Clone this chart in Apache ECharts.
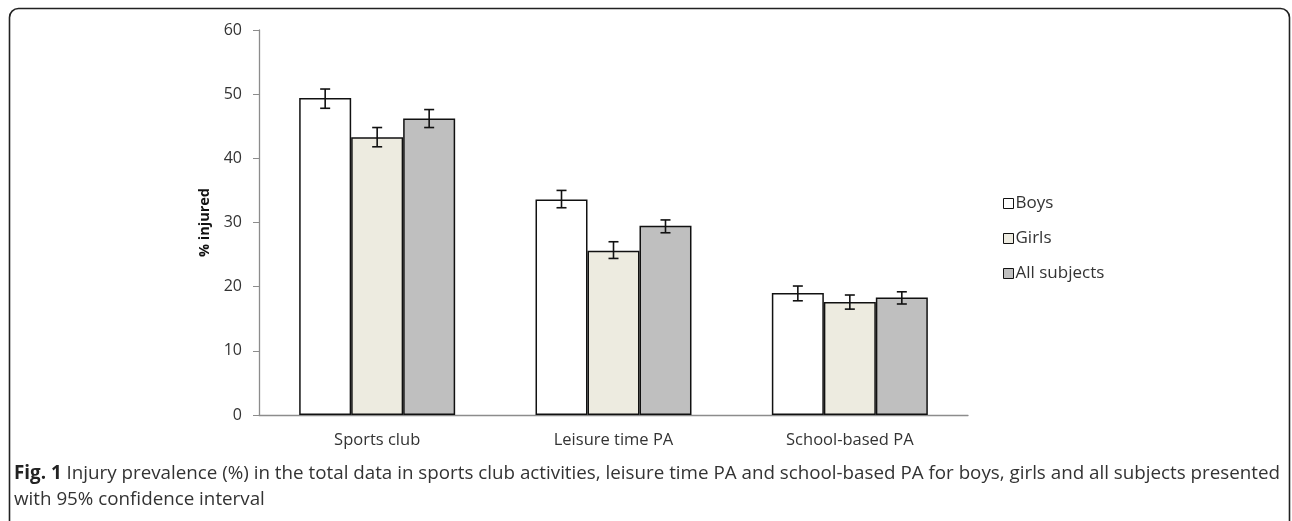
<!DOCTYPE html>
<html>
<head>
<meta charset="utf-8">
<script src="https://cdn.jsdelivr.net/npm/echarts@6/dist/echarts.min.js"></script>
<style>
html,body{margin:0;padding:0;background:#fff;}
#chart{width:1292px;height:521px;}
</style>
</head>
<body>
<div id="chart"></div>
<script>
var categories = ['Sports club', 'Leisure time PA', 'School-based PA'];
var seriesNames = ['Boys', 'Girls', 'All subjects'];
var boys = [49.4, 33.6, 19.0];
var girls = [43.3, 25.6, 17.6];
var allSubjects = [46.2, 29.5, 18.3];
var boysCI = [[47.8, 50.8], [32.3, 35.0], [17.8, 20.1]];
var girlsCI = [[41.8, 44.8], [24.4, 27.0], [16.5, 18.7]];
var allCI = [[44.8, 47.6], [28.4, 30.4], [17.3, 19.2]];
var yTicks = [0, 10, 20, 30, 40, 50, 60];
var captionBold = 'Fig. 1';
var captionLine1 = ' Injury prevalence (%) in the total data in sports club activities, leisure time PA and school-based PA for boys, girls and all subjects presented';
var captionLine2 = 'with 95% confidence interval';

var colors = ['#ffffff', '#edebe0', '#bfbfbf'];
var CAT_GAP = 0.34;
var FONT = '"Open Sans", sans-serif';

var chart = echarts.init(document.getElementById('chart'));

function errorSeries(ci, idx) {
  var data = ci.map(function (d, i) { return [i, d[0], d[1]]; });
  return {
    type: 'custom',
    name: seriesNames[idx] + ' CI',
    data: data,
    z: 10,
    silent: true,
    encode: { x: 0, y: [1, 2] },
    renderItem: function (params, api) {
      var c = api.value(0);
      var lo = api.coord([c, api.value(1)]);
      var hi = api.coord([c, api.value(2)]);
      var band = api.size([1, 0])[0];
      var bw = band * (1 - CAT_GAP) / 3;
      var x = lo[0] + (idx - 1) * bw;
      var cap = 5;
      var st = { stroke: '#111', lineWidth: 1.6 };
      return {
        type: 'group',
        children: [
          { type: 'line', shape: { x1: x, y1: lo[1], x2: x, y2: hi[1] }, style: st },
          { type: 'line', shape: { x1: x - cap, y1: lo[1], x2: x + cap, y2: lo[1] }, style: st },
          { type: 'line', shape: { x1: x - cap, y1: hi[1], x2: x + cap, y2: hi[1] }, style: st }
        ]
      };
    }
  };
}

function barSeries(vals, idx) {
  return {
    type: 'bar',
    name: seriesNames[idx],
    data: vals,
    barGap: '0%',
    barCategoryGap: (CAT_GAP * 100) + '%',
    itemStyle: { color: colors[idx], borderColor: '#111', borderWidth: 1.5 },
    silent: true
  };
}

var option = {
  animation: false,
  backgroundColor: '#fff',
  grid: { left: 259, right: 324, top: 30, bottom: 106 },
  legend: {
    orient: 'vertical',
    left: 998,
    top: 190,
    itemGap: 18,
    itemWidth: 10,
    itemHeight: 10,
    icon: 'rect',
    data: seriesNames.map(function (n, i) {
      return { name: n, itemStyle: { color: colors[i], borderColor: '#111', borderWidth: 1 } };
    }),
    textStyle: { fontFamily: FONT, fontSize: 17, lineHeight: 17, color: '#333', padding: [0, 0, 0, -3] }
  },
  xAxis: {
    type: 'category',
    data: categories,
    axisLine: { lineStyle: { color: '#8c8c8c', width: 1.3 } },
    axisTick: { show: false },
    axisLabel: { fontFamily: FONT, fontSize: 16.5, color: '#333', margin: 17 }
  },
  yAxis: {
    type: 'value',
    min: 0,
    max: 60,
    interval: 10,
    name: '% injured',
    nameLocation: 'middle',
    nameGap: 46,
    nameTextStyle: { fontFamily: FONT, fontSize: 14.5, fontWeight: 'bold', color: '#111' },
    axisLine: { show: true, lineStyle: { color: '#8c8c8c', width: 1.3 } },
    axisTick: { show: true, length: 6, lineStyle: { color: '#8c8c8c' } },
    splitLine: { show: false },
    axisLabel: {
      fontFamily: FONT, fontSize: 16, color: '#333', margin: 17,
      formatter: function (v) { return yTicks.indexOf(v) >= 0 ? String(v) : ''; }
    }
  },
  series: [
    barSeries(boys, 0), barSeries(girls, 1), barSeries(allSubjects, 2),
    errorSeries(boysCI, 0), errorSeries(girlsCI, 1), errorSeries(allCI, 2)
  ],
  graphic: [
    {
      type: 'rect',
      shape: { x: 9.5, y: 8.5, width: 1280, height: 600, r: 9 },
      style: { fill: 'none', stroke: '#222', lineWidth: 1.6 },
      silent: true
    },
    {
      type: 'text',
      left: 14,
      top: 464,
      style: {
        text: '{b|' + captionBold + '}{n|' + captionLine1 + '}\n{n|' + captionLine2 + '}',
        rich: {
          b: { fontFamily: FONT, fontSize: 18.8, fontWeight: 'bold', fill: '#222', lineHeight: 26 },
          n: { fontFamily: FONT, fontSize: 18.8, fill: '#333', lineHeight: 26 }
        }
      },
      silent: true
    }
  ]
};
chart.setOption(option);
</script>
</body>
</html>
